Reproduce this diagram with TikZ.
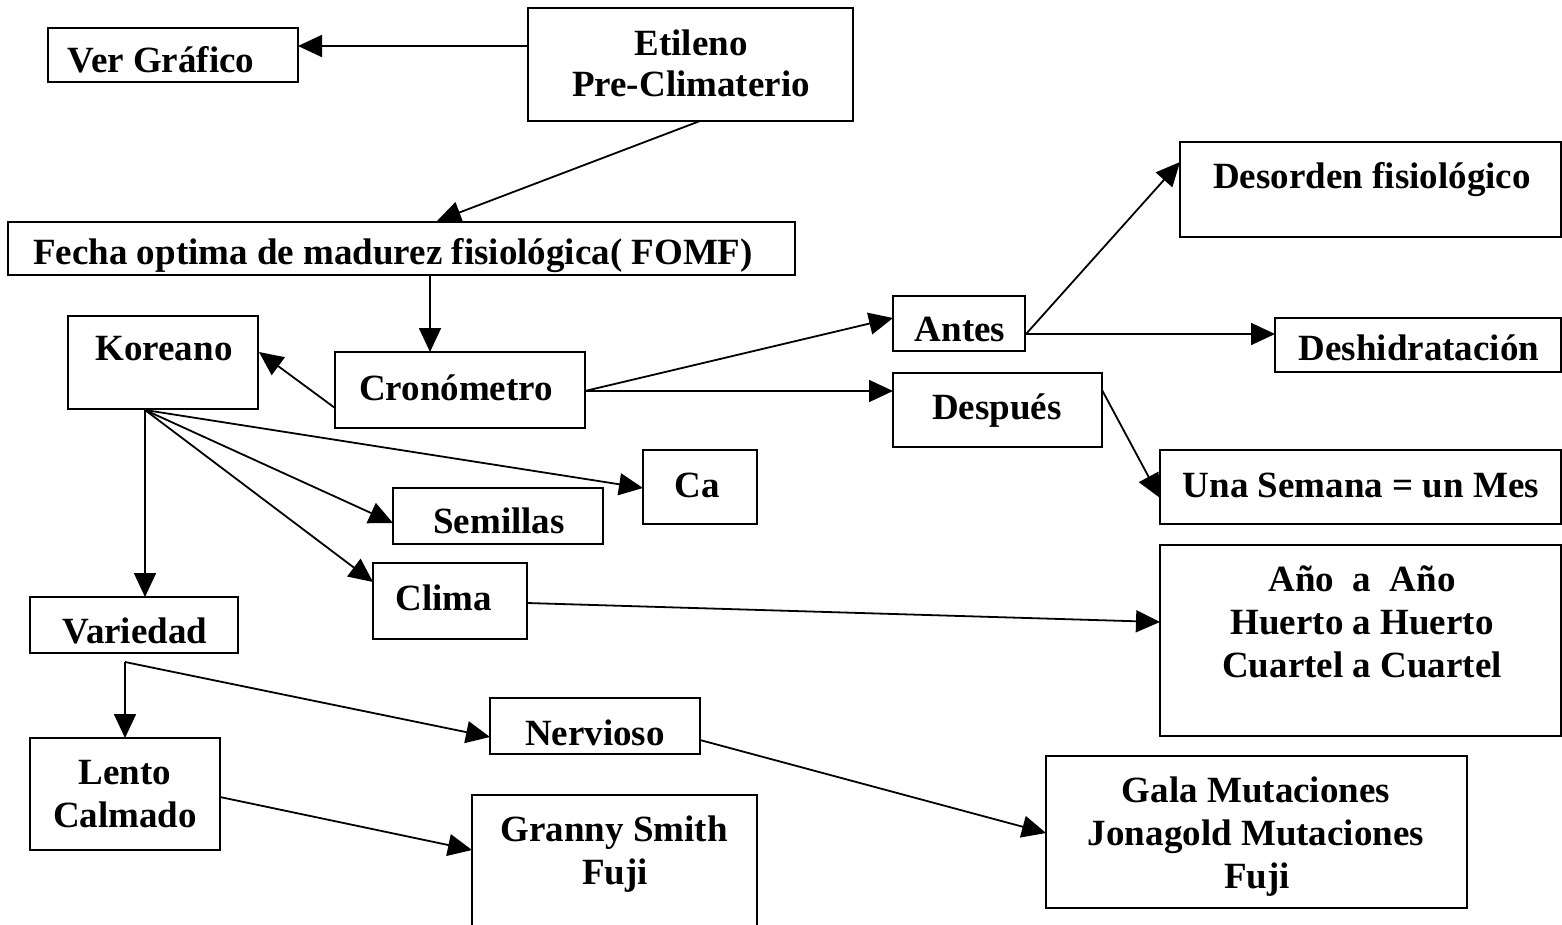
\documentclass[tikz,border=0pt]{standalone}
\usepackage{fontspec}
\setmainfont{Liberation Serif}
\usetikzlibrary{arrows.meta,calc}

\begin{document}
\begin{tikzpicture}[x=1pt,y=-1pt,
  box/.style={draw=black,line width=1.8pt,inner sep=0pt,outer sep=0pt,anchor=north west},
  lbl/.style={inner sep=0pt,anchor=base,font=\fontsize{37}{43}\selectfont\bfseries},
  conn/.style={draw=black,line width=1.8pt,-{Triangle[length=24pt,width=22pt]}}]
\useasboundingbox (0,0) rectangle (1562,925);
\fill[white] (0,0) rectangle (1562,925);

% boxes, placed by their top-left corner
\node[box,minimum width=250pt,minimum height=54pt]  (ver)    at (48,28)   {};
\node[box,minimum width=325pt,minimum height=113pt] (eti)    at (528,8)   {};
\node[box,minimum width=787pt,minimum height=53pt]  (fomf)   at (8,222)   {};
\node[box,minimum width=190pt,minimum height=93pt]  (kor)    at (68,316)  {};
\node[box,minimum width=250pt,minimum height=76pt]  (cron)   at (335,352) {};
\node[box,minimum width=132pt,minimum height=55pt]  (antes)  at (893,296) {};
\node[box,minimum width=209pt,minimum height=74pt]  (desp)   at (893,373) {};
\node[box,minimum width=381pt,minimum height=95pt]  (deso)   at (1180,142) {};
\node[box,minimum width=286pt,minimum height=54pt]  (desh)   at (1275,318) {};
\node[box,minimum width=401pt,minimum height=74pt]  (una)    at (1160,450) {};
\node[box,minimum width=114pt,minimum height=74pt]  (ca)     at (643,450) {};
\node[box,minimum width=210pt,minimum height=56pt]  (sem)    at (393,488) {};
\node[box,minimum width=154pt,minimum height=76pt]  (clima)  at (373,563) {};
\node[box,minimum width=401pt,minimum height=191pt] (ano)    at (1160,545) {};
\node[box,minimum width=208pt,minimum height=56pt]  (var)    at (30,597)  {};
\node[box,minimum width=210pt,minimum height=56pt]  (nerv)   at (490,698) {};
\node[box,minimum width=190pt,minimum height=112pt] (lento)  at (30,738)  {};
\node[box,minimum width=285pt,minimum height=150pt] (granny) at (472,795) {};
\node[box,minimum width=421pt,minimum height=152pt] (gala)   at (1046,756) {};

% labels, placed on their baselines
\node[lbl] (tver)  at (161,73)  {Ver Gráfico};
\node[lbl] (teti1) at (691,56)  {Etileno};
\node[lbl] (teti2) at (691,97)  {Pre-Climaterio};
\begin{scope}
  \clip (fomf.north west) rectangle (fomf.south east);
  \node[lbl] (tfomf) at (393,265) {Fecha optima de madurez fisiológica( FOMF)};
\end{scope}
\node[lbl] (tkor)  at (164,360) {Koreano};
\node[lbl] (tcron) at (456,400) {Cronómetro};
\node[lbl] (tantes) at (960,341) {Antes};
\node[lbl] (tdesp) at (997,419) {Después};
\node[lbl] (tdeso) at (1372,189) {Desorden fisiológico};
\node[lbl] (tdesh) at (1419,360) {Deshidratación};
\node[lbl] (tuna)  at (1361,497) {Una Semana = un Mes};
\node[lbl] (tca)   at (697,497) {Ca};
\node[lbl] (tsem)  at (499,533) {Semillas};
\node[lbl] (tclima) at (444,610) {Clima};
\node[lbl] (tano1) at (1362,591) {Año\ \ a\ \ Año};
\node[lbl] (tano2) at (1362,634) {Huerto a Huerto};
\node[lbl] (tano3) at (1362,677) {Cuartel a Cuartel};
\node[lbl] (tvar)  at (135,643) {Variedad};
\node[lbl] (tnerv) at (595,745) {Nervioso};
\node[lbl] (tlen1) at (125,784) {Lento};
\node[lbl] (tlen2) at (125,827) {Calmado};
\node[lbl] (tgra1) at (614,841) {Granny Smith};
\node[lbl] (tgra2) at (615,884) {Fuji};
\node[lbl] (tgal1) at (1256,802) {Gala Mutaciones};
\node[lbl] (tgal2) at (1256,845) {Jonagold Mutaciones};
\node[lbl] (tgal3) at (1257,888) {Fuji};

% fork point below Variedad
\coordinate (vfork) at ($(var.north west)+(95,65)$);

% connectors
\draw[conn] ($(eti.north west)+(0,38)$) -- ($(ver.north west)+(250,18)$);
\draw[conn] ($(eti.north west)+(172,113)$) -- ($(fomf.north west)+(429,-1)$);
\draw[conn] ($(fomf.north west)+(422,53)$) -- ($(cron.north west)+(95,0)$);
\draw[conn] ($(cron.north west)+(0,56)$) -- ($(kor.north west)+(191,36)$);
\draw[conn] ($(cron.north west)+(250,39)$) -- ($(antes.north west)+(0,22)$);
\draw[conn] ($(cron.north west)+(250,39)$) -- ($(desp.north west)+(0,18)$);
\draw[conn] ($(antes.north west)+(133,38)$) -- ($(deso.north west)+(0,20)$);
\draw[conn] ($(antes.north west)+(133,38)$) -- ($(desh.north west)+(0,16)$);
\draw[conn] ($(desp.north west)+(209,17)$) -- ($(una.north west)+(0,48)$);
\draw[conn] ($(kor.north west)+(77,94)$) -- ($(ca.north west)+(0,38)$);
\draw[conn] ($(kor.north west)+(77,94)$) -- ($(sem.north west)+(0,35)$);
\draw[conn] ($(kor.north west)+(77,94)$) -- ($(clima.north west)+(0,19)$);
\draw[conn] ($(kor.north west)+(77,94)$) -- ($(var.north west)+(115,0)$);
\draw[conn] ($(clima.north west)+(154,40)$) -- ($(ano.north west)+(0,77)$);
\draw[conn] (vfork) -- ($(lento.north west)+(95,0)$);
\draw[conn] (vfork) -- ($(nerv.north west)+(0,39)$);
\draw[conn] ($(lento.north west)+(190,59)$) -- ($(granny.north west)+(0,55)$);
\draw[conn] ($(nerv.north west)+(210,42)$) -- ($(gala.north west)+(0,77)$);
\end{tikzpicture}
\end{document}
